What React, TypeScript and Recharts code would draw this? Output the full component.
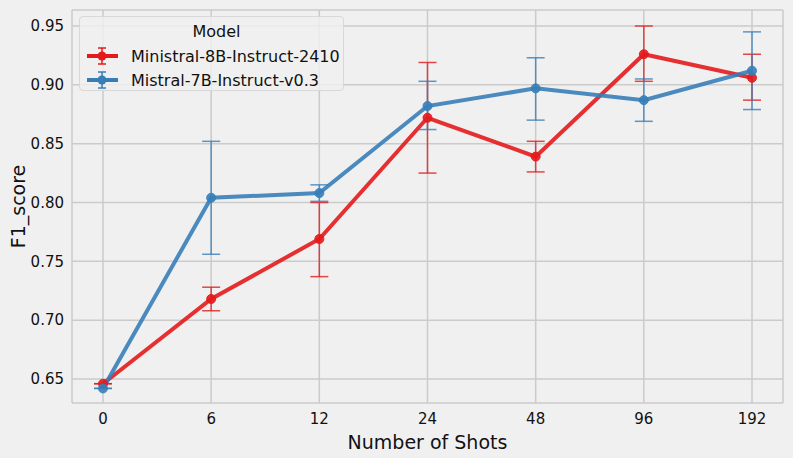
import React from "react";
import {
  CartesianGrid,
  ErrorBar,
  Legend,
  Line,
  LineChart,
  XAxis,
  YAxis,
} from "recharts";

const shots = ["0", "6", "12", "24", "48", "96", "192"];

const ministralF1 = [0.646, 0.718, 0.769, 0.872, 0.839, 0.926, 0.906];
const ministralLow = [0.646, 0.708, 0.737, 0.825, 0.826, 0.903, 0.887];
const ministralHigh = [0.646, 0.728, 0.8, 0.919, 0.852, 0.95, 0.926];

const mistralF1 = [0.642, 0.804, 0.808, 0.882, 0.897, 0.887, 0.912];
const mistralLow = [0.642, 0.756, 0.801, 0.862, 0.87, 0.869, 0.879];
const mistralHigh = [0.642, 0.852, 0.815, 0.903, 0.923, 0.905, 0.945];

const yTicks = [0.65, 0.7, 0.75, 0.8, 0.85, 0.9, 0.95];

const RED = "#e41a1c";
const BLUE = "#377eb8";
const FONT = "'DejaVu Sans', sans-serif";

const data = shots.map((s, i) => ({
  shots: s,
  ministral: ministralF1[i],
  ministralErr: [ministralF1[i] - ministralLow[i], ministralHigh[i] - ministralF1[i]],
  mistral: mistralF1[i],
  mistralErr: [mistralF1[i] - mistralLow[i], mistralHigh[i] - mistralF1[i]],
}));

const legendItems = [
  { name: "Ministral-8B-Instruct-2410", color: RED },
  { name: "Mistral-7B-Instruct-v0.3", color: BLUE },
];

function ModelLegend() {
  return (
    <div
      style={{
        width: 265,
        height: 75,
        border: "1px solid #d8d8d8",
        borderRadius: 4,
        background: "rgba(240,240,240,0.8)",
        fontFamily: FONT,
        fontSize: 16,
        color: "#111",
        boxSizing: "border-box",
        textAlign: "left",
      }}
    >
      <div style={{ textAlign: "center", paddingTop: 5, marginLeft: 10, height: 22 }}>Model</div>
      {legendItems.map((it) => (
        <div key={it.name} style={{ display: "flex", alignItems: "center", height: 24, marginLeft: 6 }}>
          <svg width={34} height={20} style={{ marginRight: 11 }}>
            <line x1={1} y1={10} x2={32} y2={10} stroke={it.color} strokeWidth={4} />
            <line x1={16} y1={2} x2={16} y2={18} stroke={it.color} strokeWidth={1.5} />
            <line x1={12} y1={2} x2={20} y2={2} stroke={it.color} strokeWidth={1.5} />
            <line x1={12} y1={18} x2={20} y2={18} stroke={it.color} strokeWidth={1.5} />
            <circle cx={16} cy={10} r={4.5} fill={it.color} />
          </svg>
          <span>{it.name}</span>
        </div>
      ))}
    </div>
  );
}

export default function App() {
  return (
    <div style={{ position: "absolute", left: 0, top: 0, width: 793, height: 458, background: "#f0f0f0" }}>
      <LineChart width={793} height={458} data={data} margin={{ top: 10, right: 10, left: 0, bottom: 0 }}>
        <CartesianGrid stroke="#cbcbcb" strokeWidth={1.5} />
        <XAxis
          dataKey="shots"
          padding={{ left: 31, right: 31 }}
          axisLine={false}
          tickLine={false}
          height={55}
          tickMargin={4}
          tick={{ fill: "#111", fontSize: 15, fontFamily: FONT }}
          label={{
            value: "Number of Shots",
            position: "insideBottom",
            offset: 9,
            fill: "#111",
            fontSize: 19,
            fontFamily: FONT,
          }}
        />
        <YAxis
          type="number"
          domain={[0.6296, 0.9636]}
          ticks={yTicks}
          allowDataOverflow
          tickFormatter={(v) => Number(v).toFixed(2)}
          axisLine={false}
          tickLine={false}
          width={72}
          tickMargin={2}
          tick={{ fill: "#111", fontSize: 15, fontFamily: FONT }}
          label={{
            value: "F1_score",
            angle: -90,
            position: "insideLeft",
            offset: 18,
            fill: "#111",
            fontSize: 19,
            fontFamily: FONT,
            style: { textAnchor: "middle" },
          }}
        />
        <Legend
          layout="horizontal"
          verticalAlign="middle"
          align="center"
          wrapperStyle={{ position: "absolute", left: 79, top: 16, width: 265, height: 75 }}
          content={() => <ModelLegend />}
        />
        <Line
          dataKey="ministral"
          name="Ministral-8B-Instruct-2410"
          stroke={RED}
          strokeWidth={4}
          strokeOpacity={0.9}
          dot={{ r: 4.5, fill: RED, stroke: RED, strokeWidth: 1, fillOpacity: 0.9 }}
          activeDot={false}
          isAnimationActive={false}
        >
          <ErrorBar dataKey="ministralErr" direction="y" width={9} stroke={RED} strokeWidth={1.5} strokeOpacity={0.8} />
        </Line>
        <Line
          dataKey="mistral"
          name="Mistral-7B-Instruct-v0.3"
          stroke={BLUE}
          strokeWidth={4}
          strokeOpacity={0.9}
          dot={{ r: 4.5, fill: BLUE, stroke: BLUE, strokeWidth: 1, fillOpacity: 0.9 }}
          activeDot={false}
          isAnimationActive={false}
        >
          <ErrorBar dataKey="mistralErr" direction="y" width={9} stroke={BLUE} strokeWidth={1.5} strokeOpacity={0.8} />
        </Line>
      </LineChart>
    </div>
  );
}
